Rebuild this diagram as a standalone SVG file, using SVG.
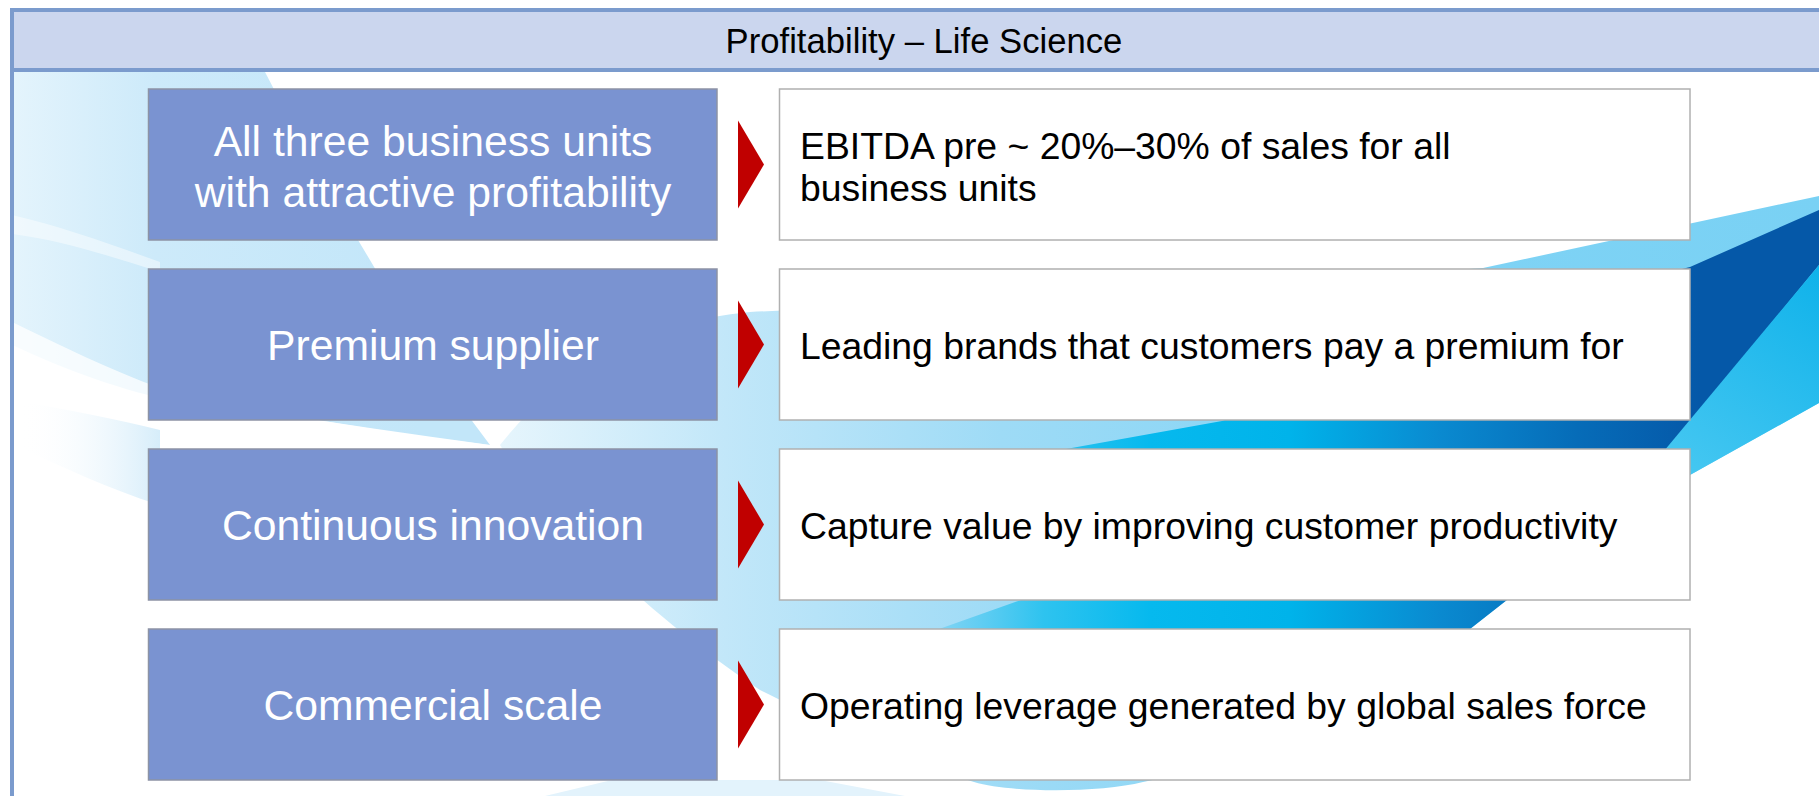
<svg xmlns="http://www.w3.org/2000/svg" width="1819" height="796" viewBox="0 0 1819 796">
  <defs>
    <style>
      .lbox { fill: #7a93d1; stroke: #8d93a5; stroke-width: 1.5; }
      .rbox { fill: #ffffff; stroke: #b0b0b0; stroke-width: 1.5; }
      .ltxt { font-family: "Liberation Sans", Arial, sans-serif; font-size: 42.67px; fill: #ffffff; text-anchor: middle; }
      .rtxt { font-family: "Liberation Sans", Arial, sans-serif; font-size: 37.33px; fill: #000000; }
      .title { font-family: "Liberation Sans", Arial, sans-serif; font-size: 34.67px; fill: #000000; text-anchor: middle; }
      .arrow { fill: #c00000; }
    </style>
    <linearGradient id="gP1" gradientUnits="userSpaceOnUse" x1="12" y1="0" x2="420" y2="0">
      <stop offset="0" stop-color="#e4f4fc"/>
      <stop offset="0.35" stop-color="#cdeafa"/>
      <stop offset="1" stop-color="#c2e6f9"/>
    </linearGradient>
    <linearGradient id="gP3" gradientUnits="userSpaceOnUse" x1="20" y1="0" x2="160" y2="0">
      <stop offset="0" stop-color="#ffffff" stop-opacity="0"/>
      <stop offset="1" stop-color="#d6edfa"/>
    </linearGradient>
    <linearGradient id="gL" gradientUnits="userSpaceOnUse" x1="500" y1="0" x2="1819" y2="0">
      <stop offset="0" stop-color="#e6f5fc"/>
      <stop offset="0.17" stop-color="#c2e7f9"/>
      <stop offset="0.38" stop-color="#9edbf6"/>
      <stop offset="0.68" stop-color="#80d3f5"/>
      <stop offset="1" stop-color="#79d1f4"/>
    </linearGradient>
    <linearGradient id="gM" gradientUnits="userSpaceOnUse" x1="880" y1="0" x2="1700" y2="0">
      <stop offset="0" stop-color="#b0e1f7"/>
      <stop offset="0.1" stop-color="#6fd0f3"/>
      <stop offset="0.2" stop-color="#2ec3ef"/>
      <stop offset="0.33" stop-color="#06b9ee"/>
      <stop offset="0.5" stop-color="#00b3ea"/>
      <stop offset="0.68" stop-color="#0a8ad0"/>
      <stop offset="0.85" stop-color="#066cb8"/>
      <stop offset="1" stop-color="#0558a8"/>
    </linearGradient>
    <linearGradient id="gC" gradientUnits="userSpaceOnUse" x1="1819" y1="265" x2="1650" y2="520">
      <stop offset="0" stop-color="#0fb2ea"/>
      <stop offset="1" stop-color="#52ccf3"/>
    </linearGradient>
  </defs>

  <rect x="0" y="0" width="1819" height="796" fill="#ffffff"/>

  <g id="background">
    <path d="M12,72 L265,72 C300,140 330,195 358,240 C400,310 440,380 490,445 C380,430 250,410 148,395 C90,380 45,360 12,345 Z" fill="url(#gP1)"/>
    <path d="M12,215 C60,226 110,244 160,262 L160,272 C110,256 60,240 12,234 Z" fill="#ffffff" opacity="0.45"/>
    <path d="M12,322 C60,345 110,370 160,388 C260,412 380,432 490,445 C380,445 260,432 160,414 C100,398 50,380 12,362 Z" fill="#ffffff" opacity="0.75"/>
    <path d="M12,400 C70,410 120,420 160,430 L160,505 C110,490 60,465 12,445 Z" fill="url(#gP3)"/>
    <path d="M500,445 C560,370 640,322 750,312 C1000,300 1300,282 1483,268 L1819,196 L1819,403 L1604,523 L1470,629 C1400,690 1250,760 1143,782 C1100,793 1010,793 974,782 C900,760 820,720 760,690 C700,650 640,600 600,560 C560,520 520,480 500,445 Z" fill="url(#gL)"/>
    <path d="M880,650 L1021,600 C1040,540 1050,480 1066,449 L1222,421 C1400,360 1550,300 1690,267 L1819,210 L1819,265 L1668,449 L1507,600 L1470,629 C1420,680 1300,750 1150,775 C1050,760 950,700 880,650 Z" fill="url(#gM)"/>
    <path d="M1819,265 L1819,403 L1604,523 Z" fill="url(#gC)"/>
    <path d="M545,796 L612,780 L820,780 L905,796 Z" fill="#e3f3fc"/>
  </g>

  <g id="frame">
    <rect x="12" y="10" width="1840" height="810" fill="none" stroke="#7b9bcd" stroke-width="4"/>
    <rect x="12" y="10" width="1840" height="60" fill="#cbd6ee" stroke="#7b9bcd" stroke-width="4"/>
    <text class="title" x="924" y="52.5">Profitability – Life Science</text>
  </g>

  <g id="connectors">
    <polygon class="arrow" points="738,120.5 764,164.5 738,208.5"/>
    <polygon class="arrow" points="738,300.5 764,344.5 738,388.5"/>
    <polygon class="arrow" points="738,480.5 764,524.5 738,568.5"/>
    <polygon class="arrow" points="738,660.5 764,704.5 738,748.5"/>
  </g>

  <g id="node-left-1">
    <rect class="lbox" x="148.5" y="89" width="568.5" height="151"/>
    <text class="ltxt" x="433" y="156">All three business units</text>
    <text class="ltxt" x="433" y="207">with attractive profitability</text>
  </g>
  <g id="node-left-2">
    <rect class="lbox" x="148.5" y="269" width="568.5" height="151"/>
    <text class="ltxt" x="433" y="360">Premium supplier</text>
  </g>
  <g id="node-left-3">
    <rect class="lbox" x="148.5" y="449" width="568.5" height="151"/>
    <text class="ltxt" x="433" y="540">Continuous innovation</text>
  </g>
  <g id="node-left-4">
    <rect class="lbox" x="148.5" y="629" width="568.5" height="151"/>
    <text class="ltxt" x="433" y="720">Commercial scale</text>
  </g>

  <g id="node-right-1">
    <rect class="rbox" x="779.5" y="89" width="910.5" height="151"/>
    <text class="rtxt" x="800" y="159">EBITDA pre ~ 20%–30% of sales for all</text>
    <text class="rtxt" x="800" y="201">business units</text>
  </g>
  <g id="node-right-2">
    <rect class="rbox" x="779.5" y="269" width="910.5" height="151"/>
    <text class="rtxt" x="800" y="358.5">Leading brands that customers pay a premium for</text>
  </g>
  <g id="node-right-3">
    <rect class="rbox" x="779.5" y="449" width="910.5" height="151"/>
    <text class="rtxt" x="800" y="538.5">Capture value by improving customer productivity</text>
  </g>
  <g id="node-right-4">
    <rect class="rbox" x="779.5" y="629" width="910.5" height="151"/>
    <text class="rtxt" x="800" y="718.5">Operating leverage generated by global sales force</text>
  </g>
</svg>
